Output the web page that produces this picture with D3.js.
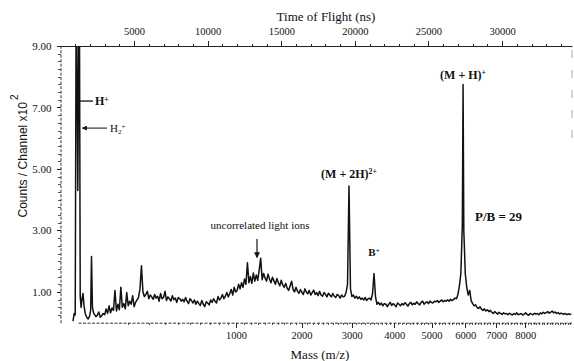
<!DOCTYPE html>
<html>
<head>
<meta charset="utf-8">
<script src="https://cdn.jsdelivr.net/npm/d3@7/dist/d3.min.js"></script>
<style>
body { margin: 0; background: #fff; }
svg text { fill: #111; }
</style>
</head>
<body>
<div id="chart"></div>
<script>
// Time of flight of each channel (ns).
var tofNs = [
    850, 930, 1000, 1073, 1175, 1277, 1340, 1400, 1470, 1530, 1600, 1680, 1780, 1880, 1980, 2050, 2106, 2170, 2260,
    2300, 2400, 2500, 2600, 2700, 2800, 2900, 3000, 3100, 3200,
    3300, 3400, 3500, 3600, 3700, 3800, 3900, 4000, 4100, 4200,
    4300, 4400, 4500, 4600, 4700, 4800, 4900, 5000, 5100, 5200,
    5300, 5400, 5500, 5600, 5700, 5800, 5900, 6000, 6100, 6200,
    6300, 6400, 6500, 6600, 6700, 6800, 6900, 7000, 7100, 7200,
    7300, 7400, 7500, 7600, 7700, 7800, 7900, 8000, 8100, 8200,
    8300, 8400, 8500, 8600, 8700, 8800, 8900, 9000, 9100, 9200,
    9300, 9400, 9500, 9600, 9700, 9800, 9900, 10000, 10100, 10200,
    10300, 10400, 10500, 10600, 10700, 10800, 10900, 11000, 11100, 11200,
    11300, 11400, 11500, 11600, 11700, 11800, 11900, 12000, 12100, 12200,
    12300, 12400, 12500, 12600, 12700, 12800, 12900, 13000, 13100, 13200,
    13300, 13400, 13500, 13600, 13700, 13800, 13900, 14000, 14100, 14200,
    14300, 14400, 14500, 14600, 14700, 14800, 14900, 15000, 15100, 15200,
    15300, 15400, 15500, 15600, 15700, 15800, 15900, 16000, 16100, 16200,
    16300, 16400, 16500, 16600, 16700, 16800, 16900, 17000, 17100, 17200,
    17300, 17400, 17500, 17600, 17700, 17800, 17900, 18000, 18100, 18200,
    18300, 18400, 18500, 18600, 18700, 18800, 18900, 19000, 19100, 19200,
    19300, 19400, 19500, 19600, 19700, 19800, 19900, 20000, 20100, 20200,
    20300, 20400, 20500, 20600, 20700, 20800, 20900, 21000, 21100, 21200,
    21300, 21400, 21500, 21600, 21700, 21800, 21900, 22000, 22100, 22200,
    22300, 22400, 22500, 22600, 22700, 22800, 22900, 23000, 23100, 23200,
    23300, 23400, 23500, 23600, 23700, 23800, 23900, 24000, 24100, 24200,
    24300, 24400, 24500, 24600, 24700, 24800, 24900, 25000, 25100, 25200,
    25300, 25400, 25500, 25600, 25700, 25800, 25900, 26000, 26100, 26200,
    26300, 26400, 26500, 26600, 26700, 26800, 26900, 27000, 27100, 27200,
    27300, 27350, 27400, 27500, 27600, 27700, 27800, 27900, 28000, 28100, 28200,
    28300, 28400, 28500, 28600, 28700, 28800, 28900, 29000, 29100, 29200,
    29300, 29400, 29500, 29600, 29700, 29800, 29900, 30000, 30100, 30200,
    30300, 30400, 30500, 30600, 30700, 30800, 30900, 31000, 31100, 31200,
    31300, 31400, 31500, 31600, 31700, 31800, 31900, 32000, 32100, 32200,
    32300, 32400, 32500, 32600, 32700, 32800, 32900, 33000, 33100, 33200,
    33300, 33400, 33500, 33600, 33700, 33800, 33900, 34000, 34100, 34200,
    34300, 34400, 34500, 34600, 34700
];
// Counts per channel (x10^2).
var counts = [
    0.05, 0.3, 0.25, 12, 4.3, 12, 0.85, 0.5, 0.8, 0.95, 0.55, 0.3, 0.18, 0.12, 0.22, 0.4, 2.15, 0.5, 0.3,
    0.28, 0.2, 0.24, 0.35, 0.18, 0.22, 0.3, 0.26, 0.45, 0.3,
    0.55, 0.32, 0.48, 0.4, 1.05, 0.38, 0.6, 0.42, 1.15, 0.5,
    0.62, 0.45, 0.98, 0.55, 0.7, 0.6, 0.88, 0.52, 0.66, 0.74,
    0.82, 1.1, 1.85, 1.0, 0.85, 0.92, 1.02, 0.78, 0.9, 0.84,
    0.76, 0.92, 0.8, 0.86, 0.7, 0.95, 0.78, 0.82, 1.02, 0.72,
    0.84, 0.78, 0.7, 0.88, 0.75, 0.8, 0.66, 0.82, 0.78, 0.7,
    0.76, 0.68, 0.82, 0.7, 0.62, 0.78, 0.72, 0.64, 0.74, 0.6,
    0.7, 0.62, 0.56, 0.72, 0.6, 0.52, 0.68, 0.64, 0.58, 0.74,
    0.66, 0.78, 0.7, 0.64, 0.85, 0.74, 0.8, 0.92, 0.78, 0.86,
    0.98, 0.84, 0.95, 1.08, 0.9, 1.15, 1.0, 1.05, 1.25, 1.1,
    1.3, 1.15, 1.42, 1.25, 1.95, 1.3, 1.5, 1.28, 1.62, 1.35,
    1.55, 1.38, 1.72, 2.1, 1.4, 1.6, 1.45, 1.35, 1.58, 1.42,
    1.3, 1.48, 1.36, 1.25, 1.44, 1.3, 1.2, 1.38, 1.22, 1.15,
    1.28, 1.12, 1.05, 1.2, 1.35, 1.08, 1.0, 1.15, 1.02, 0.96,
    1.08, 0.98, 0.92, 1.1, 1.0, 0.94, 1.05, 0.9, 0.98, 1.06,
    0.92, 0.98, 0.88, 1.02, 0.9, 0.86, 0.98, 0.92, 0.84, 0.96,
    0.9, 0.84, 0.95, 0.86, 0.82, 0.92, 0.88, 0.8, 0.9, 0.84,
    0.86, 0.98, 1.25, 4.45, 1.1, 0.85, 0.9, 0.8, 0.86, 0.78,
    0.84, 0.76, 0.8, 0.74, 0.82, 0.72, 0.78, 0.8, 0.74, 0.95,
    1.6, 0.85, 0.6, 0.66, 0.58, 0.64, 0.55, 0.62, 0.6, 0.52,
    0.6, 0.66, 0.56, 0.62, 0.58, 0.52, 0.64, 0.6, 0.55, 0.62,
    0.58, 0.65, 0.6, 0.54, 0.62, 0.66, 0.58, 0.63, 0.6, 0.68,
    0.62, 0.58, 0.66, 0.7, 0.6, 0.65, 0.68, 0.62, 0.7, 0.66,
    0.64, 0.7, 0.68, 0.72, 0.66, 0.7, 0.74, 0.68, 0.72, 0.7,
    0.74, 0.7, 0.76, 0.72, 0.75, 0.8, 0.78, 0.92, 1.2, 1.6,
    3.2, 7.75, 3.0, 1.6, 1.15, 0.9, 1.05, 0.72, 0.62, 0.55, 0.58,
    0.5, 0.46, 0.52, 0.44, 0.4, 0.45, 0.38, 0.42, 0.36, 0.4,
    0.34, 0.3, 0.36, 0.32, 0.28, 0.34, 0.3, 0.27, 0.32, 0.29,
    0.3, 0.26, 0.31, 0.28, 0.25, 0.3, 0.27, 0.32, 0.26, 0.28,
    0.3, 0.25, 0.28, 0.32, 0.27, 0.24, 0.3, 0.28, 0.26, 0.31,
    0.28, 0.3, 0.26, 0.32, 0.29, 0.34, 0.3, 0.33, 0.36, 0.31,
    0.34, 0.38, 0.32, 0.35, 0.3, 0.33, 0.28, 0.31, 0.29, 0.27,
    0.3, 0.26, 0.29, 0.27, 0.28
];
// Axis tick labels.
var tofTicks = [5000, 10000, 15000, 20000, 25000, 30000];
var massTicks = [1000, 2000, 3000, 4000, 5000, 6000, 7000, 8000];
var countTicks = [1, 3, 5, 7, 9];

var svgWidth = 574;
var svgHeight = 361;
// Plot frame.
var frame = { left: 60.5, right: 572, top: 46, bottom: 322.7 };
var serif = "'Liberation Serif', 'Times New Roman', serif";

var svg = d3.select("#chart")
    .append("svg")
    .attr("width", svgWidth)
    .attr("height", svgHeight);

// Scales: linear in flight time, mass goes with the square of it.
var xTof = d3.scaleLinear()
    .domain([0, 34750])
    .range([frame.left, frame.right]);
var xMass = d3.scalePow().exponent(0.5)
    .domain([0, 9761])
    .range([78, frame.right]);
var yCounts = d3.scaleLinear()
    .domain([0, 9])
    .range([frame.bottom, frame.top]);

function styleAxis(g, size) {
    g.attr("font-family", serif).attr("font-size", size);
    g.selectAll("line").attr("stroke", "#222").attr("shape-rendering", "crispEdges");
    g.selectAll("text").attr("fill", "#111");
}

// Top axis: time of flight.
var topMinor = svg.append("g")
    .attr("transform", `translate(0, ${frame.top})`)
    .call(d3.axisTop(xTof).tickValues(d3.range(1000, 34001, 1000)).tickSize(2.5).tickFormat(""));
topMinor.select(".domain").remove();
styleAxis(topMinor, 10);
var topAxis = svg.append("g")
    .attr("transform", `translate(0, ${frame.top})`)
    .call(d3.axisTop(xTof).tickValues(tofTicks).tickSize(5).tickSizeOuter(0).tickPadding(6).tickFormat(d3.format("d")));
topAxis.select(".domain").attr("stroke", "#222");
styleAxis(topAxis, 10.5);

// Bottom axis: mass.
var botMinor = svg.append("g")
    .attr("transform", `translate(0, ${frame.bottom})`)
    .call(d3.axisBottom(xMass).tickValues(d3.range(100, 9800, 100)).tickSize(2.5).tickFormat(""));
botMinor.select(".domain").remove();
styleAxis(botMinor, 10);
botMinor.selectAll("line").attr("stroke", "#555");
var botAxis = svg.append("g")
    .attr("transform", `translate(0, ${frame.bottom})`)
    .call(d3.axisBottom(xMass).tickValues(massTicks).tickSize(5).tickSizeOuter(0).tickPadding(4).tickFormat(d3.format("d")));
botAxis.select(".domain").attr("stroke", "#333").attr("stroke-dasharray", "3,1.5");
styleAxis(botAxis, 10.5);

// Left axis: counts.
var leftMinor = svg.append("g")
    .attr("transform", `translate(${frame.left}, 0)`)
    .call(d3.axisLeft(yCounts).tickValues(d3.range(0.25, 9, 0.25)).tickSize(2.5).tickFormat(""));
leftMinor.select(".domain").remove();
styleAxis(leftMinor, 10);
leftMinor.selectAll("line").attr("stroke", "#555");
var leftAxis = svg.append("g")
    .attr("transform", `translate(${frame.left}, 0)`)
    .call(d3.axisLeft(yCounts).tickValues(countTicks).tickSize(4).tickSizeOuter(0).tickPadding(5).tickFormat(d3.format(".2f")));
leftAxis.select(".domain").attr("stroke", "#333").attr("stroke-dasharray", "3,1.5");
styleAxis(leftAxis, 11);

// Faint right edge.
svg.append("line")
    .attr("x1", frame.right).attr("x2", frame.right)
    .attr("y1", frame.top + 4).attr("y2", yCounts(6))
    .attr("stroke", "#aaa")
    .attr("stroke-dasharray", "8,12");

// Spectrum, clipped to the frame.
svg.append("clipPath").attr("id", "clip")
    .append("rect")
    .attr("x", frame.left).attr("y", frame.top)
    .attr("width", frame.right - frame.left)
    .attr("height", frame.bottom - frame.top);

var spectrum = d3.zip(tofNs, counts);
var line = d3.line()
    .x(d => xTof(d[0]))
    .y(d => yCounts(d[1]));
svg.append("path")
    .datum(spectrum)
    .attr("clip-path", "url(#clip)")
    .attr("fill", "none")
    .attr("stroke", "#111")
    .attr("stroke-width", 1.5)
    .attr("stroke-linejoin", "round")
    .attr("d", line);

// Axis titles.
svg.append("text")
    .attr("x", 326).attr("y", 21)
    .attr("text-anchor", "middle")
    .attr("font-family", serif).attr("font-size", 13)
    .text("Time of Flight (ns)");
svg.append("text")
    .attr("x", 320).attr("y", 359)
    .attr("text-anchor", "middle")
    .attr("font-family", serif).attr("font-size", 13)
    .text("Mass (m/z)");
var yTitle = svg.append("text")
    .attr("transform", "translate(27, 156) rotate(-90)")
    .attr("text-anchor", "middle")
    .attr("font-family", "'Liberation Sans', Arial, sans-serif").attr("font-size", 12);
yTitle.append("tspan").text("Counts / Channel x10");
yTitle.append("tspan").attr("dy", "-0.9em").attr("dx", 2).attr("font-size", 10).text("2");

// Peak labels.
var marker = svg.append("defs").append("marker")
    .attr("id", "arrow")
    .attr("viewBox", "0 0 8 8")
    .attr("refX", 7).attr("refY", 4)
    .attr("markerWidth", 5).attr("markerHeight", 5)
    .attr("orient", "auto");
marker.append("path").attr("d", "M0,0L8,4L0,8Z").attr("fill", "#111");

function label(tof, count, anchor, parts, weight, size) {
    var t = svg.append("text")
        .attr("x", xTof(tof)).attr("y", yCounts(count))
        .attr("text-anchor", anchor)
        .attr("font-family", serif)
        .attr("font-weight", weight)
        .attr("font-size", size);
    parts.forEach(function(p) {
        var s = t.append("tspan").text(p[0]);
        if (p[1] === "sup") s.attr("dy", "-0.45em").attr("font-size", size * 0.65);
        if (p[1] === "sub") s.attr("dy", "0.3em").attr("font-size", size * 0.65);
        if (p[1] === "subsup") s.attr("dy", "-0.75em").attr("font-size", size * 0.65);
    });
    return t;
}

label(27350, 7.93, "middle", [["(M + H)"], ["+", "sup"]], "bold", 12);
label(19600, 4.71, "middle", [["(M + 2H)"], ["2+", "sup"]], "bold", 12);
label(21300, 2.17, "middle", [["B"], ["+", "sup"]], "bold", 11);
label(28160, 3.31, "start", [["P/B = 29"]], "bold", 13);
label(13554, 3.05, "middle", [["uncorrelated light ions"]], "normal", 11);
label(2344, 7.08, "start", [["H"], ["+", "sup"]], "bold", 12);
label(3363, 6.2, "start", [["H"], ["2", "sub"], ["+", "subsup"]], "normal", 11);

// Leader lines.
svg.append("line")
    .attr("x1", xTof(1325)).attr("x2", xTof(2208))
    .attr("y1", yCounts(7.21)).attr("y2", yCounts(7.21))
    .attr("stroke", "#111").attr("stroke-width", 1.3);
svg.append("line")
    .attr("x1", xTof(3159)).attr("x2", xTof(1495))
    .attr("y1", yCounts(6.33)).attr("y2", yCounts(6.33))
    .attr("stroke", "#111").attr("stroke-width", 1)
    .attr("marker-end", "url(#arrow)");
svg.append("line")
    .attr("x1", xTof(13350)).attr("x2", xTof(13350))
    .attr("y1", yCounts(2.72)).attr("y2", yCounts(2.12))
    .attr("stroke", "#111").attr("stroke-width", 1.2)
    .attr("marker-end", "url(#arrow)");
</script>
</body>
</html>
